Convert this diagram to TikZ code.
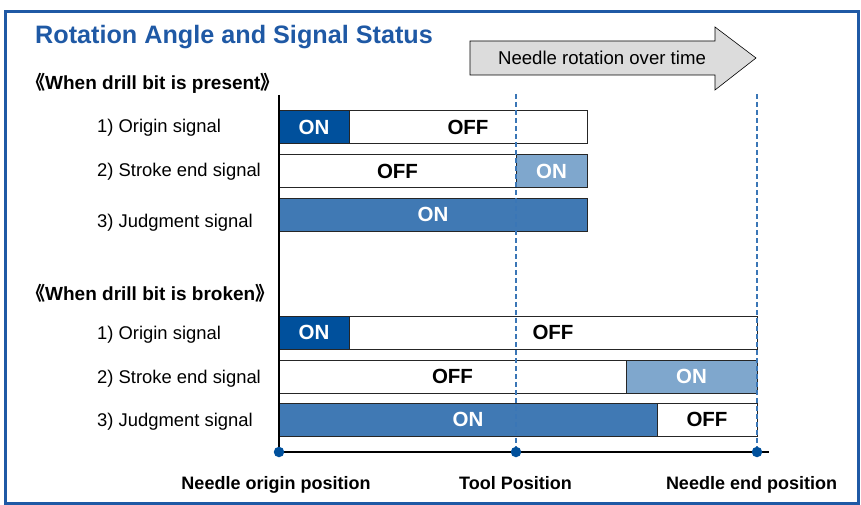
\documentclass[tikz,border=0pt]{standalone}
\usepackage{fontspec}
\setmainfont{Liberation Sans}
\newfontfamily\cjk{Noto Sans CJK SC}
\usetikzlibrary{positioning}

\definecolor{frameblue}{HTML}{1F59A5}
\definecolor{ondark}{HTML}{00509C}
\definecolor{onmid}{HTML}{4079B4}
\definecolor{onlight}{HTML}{7FA7CD}
\definecolor{dashblue}{HTML}{3A76B6}
\definecolor{arrowgray}{HTML}{DCDCDC}

\tikzset{
  bar/.style={draw=black!85, line width=1pt, minimum height=33pt, inner sep=0pt,
    outer sep=0pt, anchor=west, font=\fontsize{20.5}{22}\selectfont\bfseries},
  onbar/.style={bar, text=white},
  offbar/.style={bar, fill=white},
  sig/.style={anchor=base west, inner sep=0pt, font=\fontsize{18.4}{20}\selectfont},
  case/.style={anchor=base west, inner sep=0pt, font=\fontsize{19}{20}\selectfont\bfseries},
  poslabel/.style={anchor=base, inner sep=0pt, font=\fontsize{18}{20}\selectfont\bfseries},
  dot/.style={circle, fill=ondark, inner sep=0pt, minimum size=10.5pt},
  mark line/.style={dashblue, line width=1.3pt, dash pattern=on 5pt off 3pt},
}

\begin{document}
\begin{tikzpicture}[x=1pt, y=-1pt]
  \useasboundingbox (0,0) rectangle (861,505);
  \draw[frameblue, line width=3pt] (5,12) rectangle (858.5,503);

  \node[anchor=base west, inner sep=0pt, text=frameblue, font=\fontsize{25.2}{28}\selectfont\bfseries]
    at (35,44) (title) {Rotation Angle and Signal Status};

  % time arrow
  \draw[fill=arrowgray, line width=0.6pt] (470,41) -- (715,41) -- (715,27) -- (756,58)
    -- (715,90) -- (715,75) -- (470,75) -- cycle;
  \node[anchor=base, inner sep=0pt, font=\fontsize{18.6}{20}\selectfont] at (602,65) (flow) {Needle rotation over time};

  % drill bit present
  \node[case] at (26,90) (present) {{\cjk 《}When drill bit is present{\cjk 》}};
  \node[sig] at (97,133) (ps1) {1) Origin signal};
  \node[sig] at (97,177) (ps2) {2) Stroke end signal};
  \node[sig] at (97,227) (ps3) {3) Judgment signal};

  \node[onbar, fill=ondark, minimum width=70pt] at (279,127) (p1a) {ON};
  \node[offbar, minimum width=238pt] at (p1a.east) (p1b) {OFF};
  \node[offbar, minimum width=237pt] at (279,171) (p2a) {OFF};
  \node[onbar, fill=onlight, minimum width=71pt] at (p2a.east) (p2b) {ON};
  \node[onbar, fill=onmid, minimum width=308pt] at (279,214.5) (p3a) {ON};

  % drill bit broken
  \node[case] at (26,300) (broken) {{\cjk 《}When drill bit is broken{\cjk 》}};
  \node[sig] at (97,339) (bs1) {1) Origin signal};
  \node[sig] at (97,383) (bs2) {2) Stroke end signal};
  \node[sig] at (97,426) (bs3) {3) Judgment signal};

  \node[onbar, fill=ondark, minimum width=70pt] at (279,332.5) (b1a) {ON};
  \node[offbar, minimum width=408pt] at (b1a.east) (b1b) {OFF};
  \node[offbar, minimum width=347pt] at (279,376.5) (b2a) {OFF};
  \node[onbar, fill=onlight, minimum width=131pt] at (b2a.east) (b2b) {ON};
  \node[onbar, fill=onmid, minimum width=378pt] at (279,419.5) (b3a) {ON};
  \node[offbar, minimum width=100pt] at (b3a.east) (b3b) {OFF};

  % positions
  \coordinate (top0) at (279,95);
  \coordinate (top1) at (516,94);
  \coordinate (top2) at (757,94);
  \coordinate (origin) at (279,452);
  \coordinate (tool) at (516,452);
  \coordinate (nend) at (757,452);
  \coordinate (axisend) at (769,452);

  \draw[mark line] (top1) -- (tool);
  \draw[mark line] (top2) -- (nend);
  \draw[line width=1.6pt] (top0) -- (origin) -- (axisend);
  \node[dot] at (origin) (dorigin) {};
  \node[dot] at (tool) (dtool) {};
  \node[dot] at (nend) (dnend) {};

  \node[poslabel] at (276,489) (lorigin) {Needle origin position};
  \node[poslabel] at (515.5,489) (ltool) {Tool Position};
  \node[poslabel] at (751.5,489) (lend) {Needle end position};
\end{tikzpicture}
\end{document}
